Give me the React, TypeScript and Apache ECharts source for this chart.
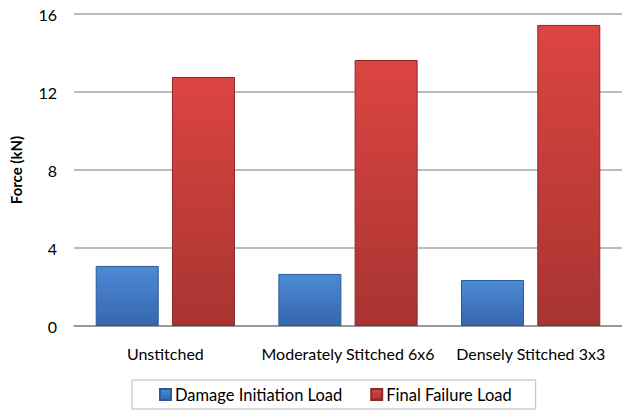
import React, { useEffect, useRef } from "react";
import * as echarts from "echarts";

const categories = ["Unstitched", "Moderately Stitched 6x6", "Densely Stitched 3x3"];
const damageInitiation = [3.08, 2.67, 2.36];
const finalFailure = [12.77, 13.64, 15.44];
const yTicks = [0, 4, 8, 12, 16];
const seriesNames = ["Damage Initiation Load", "Final Failure Load"];

const FONT = "Lato, 'Open Sans', sans-serif";

function grad(top: string, bottom: string) {
  return new echarts.graphic.LinearGradient(0, 0, 0, 1, [
    { offset: 0, color: top },
    { offset: 1, color: bottom },
  ]);
}

export default function App() {
  const ref = useRef<HTMLDivElement>(null);
  useEffect(() => {
    if (!ref.current) return;
    const chart = echarts.init(ref.current, undefined, { renderer: "svg" });
    chart.setOption({
      animation: false,
      backgroundColor: "#ffffff",
      grid: { left: 70, right: -3, top: 14, bottom: 84, containLabel: false },
      legend: {
        data: seriesNames,
        bottom: 1,
        left: 132,
        itemWidth: 11,
        itemHeight: 11,
        itemGap: 28,
        borderColor: "#b8b8b8",
        borderWidth: 1,
        padding: [6, 24, 6, 27],
        textStyle: { fontFamily: FONT, fontSize: 16.5, color: "#000", padding: [0, 0, 0, -1] },
        icon: "rect",
      },
      xAxis: {
        type: "category",
        data: categories,
        axisLine: { show: true, lineStyle: { color: "#8c8c8c", width: 1.5 } },
        axisTick: { show: false },
        axisLabel: { fontFamily: FONT, fontSize: 16, color: "#000", margin: 19, interval: 0 },
      },
      yAxis: {
        type: "value",
        min: yTicks[0],
        max: yTicks[yTicks.length - 1],
        interval: 4,
        name: "Force (kN)",
        nameLocation: "middle",
        nameGap: 51,
        nameTextStyle: { fontFamily: FONT, fontSize: 15, fontWeight: "bold", color: "#000" },
        axisLine: { show: false },
        axisTick: { show: false },
        axisLabel: { fontFamily: FONT, fontSize: 16, color: "#000", margin: 17 },
        splitLine: { lineStyle: { color: "#a6a6a6", width: 1.5 } },
      },
      series: [
        {
          name: seriesNames[0],
          type: "bar",
          data: damageInitiation,
          barWidth: 63,
          barGap: "21%",
          itemStyle: {
            color: grad("#4d8ad6", "#3566ad"),
            borderColor: "#2c5a96",
            borderWidth: 1,
          },
        },
        {
          name: seriesNames[1],
          type: "bar",
          data: finalFailure,
          barWidth: 63,
          barGap: "21%",
          itemStyle: {
            color: grad("#dc4542", "#a83431"),
            borderColor: "#8a2a28",
            borderWidth: 1,
          },
        },
      ],
    });
    return () => chart.dispose();
  }, []);
  return (
    <div
      ref={ref}
      style={{ position: "fixed", left: 0, top: 0, width: 622, height: 410, background: "#fff" }}
    />
  );
}
